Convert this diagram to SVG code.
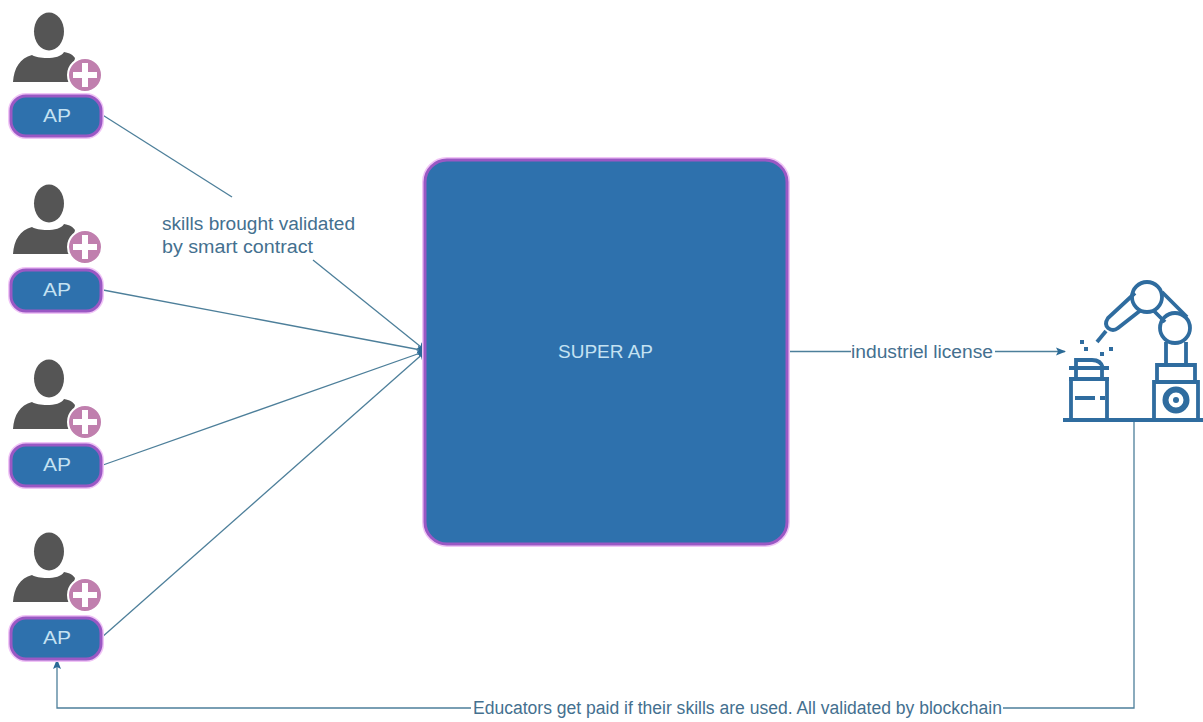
<svg xmlns="http://www.w3.org/2000/svg" width="1203" height="722" viewBox="0 0 1203 722">
<style>
text{font-family:"Liberation Sans",Arial,sans-serif}
.halo{fill:none;stroke:#f0c4f6;stroke-width:6}
.ap{fill:#2e71ad;stroke:#9a58c4;stroke-width:3}
.apt{fill:#c4e2f2;font-size:18px}
.lbl{fill:#44708f;font-size:18px}
.c{fill:none;stroke:#4d7f9a;stroke-width:1.300}
.r{fill:none;stroke:#2f6c9f;stroke-width:3.800}
.rf{fill:#2f6c9f}
</style>
<defs>
<marker id="ah" markerWidth="11" markerHeight="10" refX="9" refY="5" orient="auto" markerUnits="userSpaceOnUse"><path d="M0 1L10 5L0 9L2 5Z" fill="#2a6a96"/></marker>
<g id="user">
<ellipse cx="49" cy="31.500" rx="15" ry="19" fill="#555"/>
<path d="M13 82C14 68 20 58 32 55C38 59 60 60 64 52C70 53 73 55 75 58L70 82Z" fill="#555"/>
<circle cx="85" cy="75" r="17" fill="#c07fae" stroke="#fff" stroke-width="2"/>
<path d="M82 63h6v9h9v6h-9v9h-6v-9h-9v-6h9Z" fill="#fff"/>
</g>
</defs>
<g id="connectors">
<path class="c" d="M101 114L232 197"/>
<path class="c" d="M313 260L426 351" marker-end="url(#ah)"/>
<path class="c" d="M103 290L426 351" marker-end="url(#ah)"/>
<path class="c" d="M103 465L426 351" marker-end="url(#ah)"/>
<path class="c" d="M101 638L426 351" marker-end="url(#ah)"/>
<path class="c" d="M787 351.500H851"/>
<path class="c" d="M995 351.500H1065" marker-end="url(#ah)"/>
<path class="c" d="M1134 420V708H1003"/>
<path class="c" d="M471 708H57V660" marker-end="url(#ah)"/>
</g>
<g id="ap1"><use href="#user"/><rect class="halo" x="11" y="96" width="90" height="40" rx="15"/><rect class="ap" x="11" y="96" width="90" height="40" rx="15"/><text class="apt" x="43" y="122" textLength="28" lengthAdjust="spacingAndGlyphs">AP</text></g>
<g id="ap2"><use href="#user" y="172"/><rect class="halo" x="11" y="270" width="90" height="41" rx="15"/><rect class="ap" x="11" y="270" width="90" height="41" rx="15"/><text class="apt" x="43" y="296" textLength="28" lengthAdjust="spacingAndGlyphs">AP</text></g>
<g id="ap3"><use href="#user" y="347"/><rect class="halo" x="11" y="445" width="90" height="41" rx="15"/><rect class="ap" x="11" y="445" width="90" height="41" rx="15"/><text class="apt" x="43" y="471" textLength="28" lengthAdjust="spacingAndGlyphs">AP</text></g>
<g id="ap4"><use href="#user" y="520"/><rect class="halo" x="11" y="618" width="90" height="41" rx="15"/><rect class="ap" x="11" y="618" width="90" height="41" rx="15"/><text class="apt" x="43" y="644" textLength="28" lengthAdjust="spacingAndGlyphs">AP</text></g>
<g id="super"><rect class="halo" x="425" y="160" width="362" height="384" rx="22"/><rect class="ap" x="425" y="160" width="362" height="384" rx="22"/><text class="apt" x="558" y="358" textLength="95" lengthAdjust="spacingAndGlyphs">SUPER AP</text></g>
<g id="robot">
<path class="r" d="M1063 420H1203"/>
<path class="r" d="M1071 420V379H1107V420M1069 379H1109M1069 368H1109"/>
<path class="r" d="M1076 379V368M1102 379V368M1076 368V360H1092Q1101 360 1103 368"/>
<path class="r" d="M1075 398H1095M1100 398H1105"/>
<path class="r" d="M1154 420V382H1198V420M1157 382V365H1195V382"/>
<circle cx="1176" cy="400" r="10.500" fill="none" stroke="#2f6c9f" stroke-width="6"/>
<circle cx="1176" cy="400" r="3" class="rf"/>
<path class="r" d="M1166 365V342M1186 365V342"/>
<circle cx="1175" cy="328" r="15" class="r"/>
<circle cx="1147" cy="297" r="15" class="r"/>
<path class="r" d="M1135 293L1108 318Q1104 324 1108 328Q1113 332 1118 328L1141 310"/>
<path class="r" d="M1162 292L1187 317M1153 310L1165 322"/>
<path class="r" d="M1106 331L1097 342"/>
<g class="rf"><rect x="1080" y="340" width="4" height="4"/><rect x="1084" y="347" width="4" height="4"/><rect x="1100" y="352" width="4" height="4"/><rect x="1109" y="347" width="4" height="4"/></g>
</g>
<g id="labels">
<text class="lbl" x="162" y="230" textLength="193" lengthAdjust="spacingAndGlyphs">skills brought validated</text>
<text class="lbl" x="162" y="253" textLength="151" lengthAdjust="spacingAndGlyphs">by smart contract</text>
<text class="lbl" x="851" y="358" textLength="142" lengthAdjust="spacingAndGlyphs">industriel license</text>
<text class="lbl" x="473" y="714" textLength="529" lengthAdjust="spacingAndGlyphs">Educators get paid if their skills are used. All validated by blockchain</text>
</g>
</svg>
